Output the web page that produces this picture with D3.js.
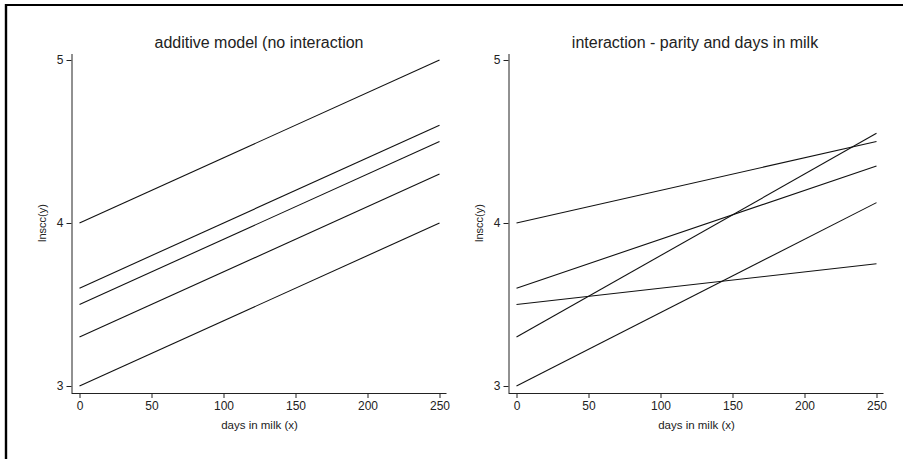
<!DOCTYPE html>
<html>
<head>
<meta charset="utf-8">
<script src="https://cdn.jsdelivr.net/npm/d3@7"></script>
<style>
  body { margin: 0; background: #fff; }
  svg text { font-family: "Liberation Sans", Arial, sans-serif; fill: #222; }
</style>
</head>
<body>
<div id="vis"></div>
<script>
// x domain and ticks shared by both panels
const xTicks = [0, 50, 100, 150, 200, 250];
const yTicks = [3, 4, 5];

// each line: value at day 0 and at day 250
const additiveStart = [4.0, 3.6, 3.5, 3.3, 3.0];
const additiveEnd   = [5.0, 4.6, 4.5, 4.3, 4.0];

const interactStart = [4.0, 3.6, 3.5, 3.3, 3.0];
const interactEnd   = [4.5, 4.35, 3.75, 4.55, 4.125];

const titles = ["additive model (no interaction", "interaction - parity and days in milk"];

const W = 903, H = 459;

const svg = d3.select('#vis')
  .append('svg')
  .attr('width', W)
  .attr('height', H);

// outer frame (only top and left edges show in the picture)
svg.append('line').attr('x1', 5).attr('x2', W).attr('y1', 5).attr('y2', 5)
  .attr('stroke', '#000').attr('stroke-width', 2.2);
svg.append('line').attr('x1', 6).attr('x2', 6).attr('y1', 4).attr('y2', H)
  .attr('stroke', '#000').attr('stroke-width', 2.4);

function drawPanel(opts) {
  const g = svg.append('g');

  const x = d3.scaleLinear().domain([0, 250]).range([opts.x0, opts.x1]);
  const y = d3.scaleLinear().domain([3, 5]).range([386, 60]);

  // axes
  const xAxis = g.append('g')
    .attr('transform', `translate(0,393)`)
    .call(d3.axisBottom(x).tickValues(xTicks).tickSize(5).tickSizeOuter(0).tickPadding(3));
  xAxis.select('.domain').attr('d', `M${opts.axisX},0.5H${opts.x1 + 7}`);

  const yAxis = g.append('g')
    .attr('transform', `translate(${opts.axisX},0)`)
    .call(d3.axisLeft(y).tickValues(yTicks).tickFormat(d3.format('d')).tickSize(5).tickSizeOuter(0).tickPadding(3));
  yAxis.select('.domain').attr('d', `M0.5,54V393`);

  g.selectAll('.domain').attr('stroke', '#222');
  g.selectAll('.tick line').attr('stroke', '#222');
  g.selectAll('.tick text').style('font-size', '12px').attr('fill', '#222');

  // axis titles
  g.append('text')
    .attr('x', (opts.x0 + opts.x1) / 2)
    .attr('y', 429)
    .attr('text-anchor', 'middle')
    .style('font-size', '11.5px')
    .text('days in milk (x)');

  g.append('text')
    .attr('transform', `translate(${opts.axisX - 26},${y(4)}) rotate(-90)`)
    .attr('text-anchor', 'middle')
    .style('font-size', '11px')
    .text('lnscc(y)');

  // title
  g.append('text')
    .attr('x', opts.titleX)
    .attr('y', 48)
    .attr('text-anchor', 'middle')
    .style('font-size', '16px')
    .text(opts.title);

  // lines
  const rows = opts.start.map((s, i) => [{ d: 0, v: s }, { d: 250, v: opts.end[i] }]);
  const line = d3.line().x(d => x(d.d)).y(d => y(d.v));

  g.selectAll('.fit')
    .data(rows)
    .join('path')
    .attr('class', 'fit')
    .attr('fill', 'none')
    .attr('stroke', '#111')
    .attr('stroke-width', 1.1)
    .attr('d', line);
}

drawPanel({ x0: 79.5, x1: 439.5, axisX: 71.5, title: titles[0], titleX: 259,
  start: additiveStart, end: additiveEnd });
drawPanel({ x0: 516.5, x1: 876.5, axisX: 508.5, title: titles[1], titleX: 695,
  start: interactStart, end: interactEnd });
</script>
</body>
</html>
